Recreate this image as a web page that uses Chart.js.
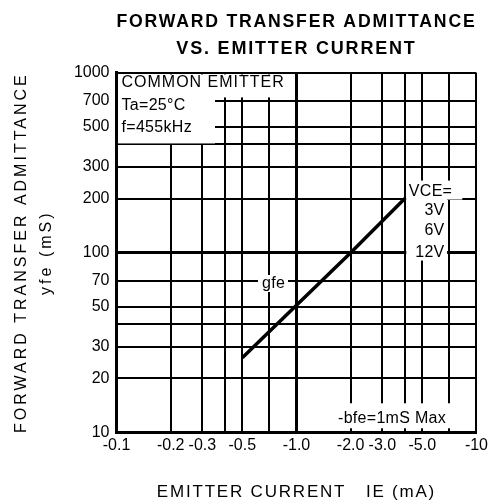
<!DOCTYPE html>
<html>
<head>
<meta charset="utf-8">
<script src="https://cdn.jsdelivr.net/npm/chart.js@4.4.1/dist/chart.umd.min.js"></script>
<style>
  html, body { margin: 0; padding: 0; background: #fff; }
  #wrap { width: 492px; height: 504px; }
</style>
</head>
<body>
<div id="wrap"><canvas id="admittanceChart"></canvas></div>
<script>
// data (IE in mA, yfe in mS)
const emitterCurrent = [-0.5, -1.0, -2.0, -4.0]
const yfe = [26, 51, 100, 200]

// grid lines and labelled ticks (x axis uses |IE|)
const xGrid = [0.1, 0.2, 0.3, 0.4, 0.5, 0.7, 1, 2, 3, 4, 5, 7, 10]
const xTickValues = [0.1, 0.2, 0.3, 0.5, 1, 2, 3, 5, 10]
const xTickLabels = ['-0.1', '-0.2', '-0.3', '-0.5', '-1.0', '-2.0', '-3.0', '-5.0', '-10']
const yGrid = [10, 20, 30, 40, 50, 70, 100, 200, 300, 400, 500, 700, 1000]
const yTickValues = [10, 20, 30, 50, 70, 100, 200, 300, 500, 700, 1000]
const yTickLabels = ['10', '20', '30', '50', '70', '100', '200', '300', '500', '700', '1000']

const FONT = "'Liberation Sans', Arial, sans-serif"

const labelFor = (values, labels) => (v) => {
    const i = values.findIndex(t => Math.abs(t - v) < 1e-9)
    return i < 0 ? '' : labels[i]
}

// wider letter spacing on the titles, like the scanned sheet
const wideText = {
    id: 'wideText',
    beforeDraw(chart) {
        if (chart.$wrapped) return
        chart.$wrapped = true
        const wrap = (obj, key, sp) => {
            const orig = obj[key]
            obj[key] = function (...args) {
                const c = chart.ctx
                c.save()
                c.letterSpacing = sp
                orig.apply(this, args)
                c.restore()
            }
        }
        wrap(chart.titleBlock, 'draw', '1.8px')
        wrap(chart.scales.x, 'drawTitle', '1.8px')
        wrap(chart.scales.y, 'drawTitle', '3px')
    }
}

// white label boxes that break the grid, plus the printed notes
const notes = {
    id: 'notes',
    beforeDatasetsDraw(chart) {
        const { ctx, chartArea: a, scales: { x, y } } = chart
        const x1 = x.getPixelForValue(1)
        const x4 = x.getPixelForValue(4)
        const x7 = x.getPixelForValue(7)
        const y200 = y.getPixelForValue(200)
        const y400 = y.getPixelForValue(400)
        const y20 = y.getPixelForValue(20)

        ctx.save()
        ctx.fillStyle = '#fff'
        ctx.fillRect(a.left + 1.5, a.top + 1.5, x1 - a.left - 3, 23)
        ctx.fillRect(a.left + 1.5, a.top + 24, 97, y400 - a.top - 25)
        ctx.fillRect(x4 + 1.5, y200 - 18, 56, 19)
        ctx.fillRect(x4 + 1.5, y200, x7 - x4 - 3, 62)
        ctx.fillRect(258, 275, 30, 17)
        ctx.fillRect(335, y20 + 25, 115, 25)

        ctx.fillStyle = '#000'
        ctx.textBaseline = 'middle'
        ctx.font = '16px ' + FONT
        ctx.letterSpacing = '1px'
        ctx.textAlign = 'left'
        ctx.fillText('COMMON EMITTER', a.left + 5, a.top + 10)
        ctx.letterSpacing = '0.3px'
        ctx.fillText('Ta=25°C', a.left + 5, a.top + 33)
        ctx.fillText('f=455kHz', a.left + 5, a.top + 55)
        ctx.fillText('VCE=', x4 + 4, y200 - 7)
        ctx.fillText('gfe', 262, 284)
        ctx.fillText('-bfe=1mS Max', 338, y20 + 40)
        ctx.textAlign = 'right'
        ctx.fillText('3V', x7 - 4, y200 + 12)
        ctx.fillText('6V', x7 - 4, y200 + 32)
        ctx.fillText('12V', x7 - 4, y200 + 54)
        ctx.restore()
    }
}

const admittanceChart = document.getElementById('admittanceChart')

new Chart(admittanceChart, {
    type: 'line',
    data: {
        datasets: [{
            label: 'gfe',
            data: emitterCurrent.map((ie, i) => ({ x: Math.abs(ie), y: yfe[i] })),
            borderColor: '#000',
            borderWidth: 3.5,
            pointRadius: 0,
            tension: 0
        }]
    },
    options: {
        responsive: true,
        maintainAspectRatio: false,
        animation: false,
        layout: { padding: { left: 0, right: 8, top: 0, bottom: 0 } },
        plugins: {
            legend: { display: false },
            tooltip: { enabled: false },
            title: {
                display: true,
                fullSize: false,
                text: ['FORWARD TRANSFER ADMITTANCE', 'VS. EMITTER CURRENT'],
                color: '#000',
                font: { family: FONT, size: 18, weight: 'bold', lineHeight: 1.47 },
                padding: { top: 9, bottom: 11 }
            }
        },
        scales: {
            x: {
                type: 'logarithmic',
                min: 0.1,
                max: 10,
                afterBuildTicks: (axis) => { axis.ticks = xGrid.map(v => ({ value: v })) },
                grid: {
                    color: '#000',
                    lineWidth: (c) => c.tick && c.tick.value === 1 ? 3 : 2,
                    drawTicks: false
                },
                border: { color: '#000', width: 3 },
                ticks: {
                    autoSkip: false,
                    maxRotation: 0,
                    padding: 4,
                    color: '#000',
                    font: { family: FONT, size: 16 },
                    callback: labelFor(xTickValues, xTickLabels)
                },
                title: {
                    display: true,
                    text: 'EMITTER CURRENT   IE (mA)',
                    color: '#000',
                    font: { family: FONT, size: 17 },
                    padding: { top: 23, bottom: 1 }
                }
            },
            y: {
                type: 'logarithmic',
                min: 10,
                max: 1000,
                afterBuildTicks: (axis) => { axis.ticks = yGrid.map(v => ({ value: v })) },
                grid: {
                    color: '#000',
                    lineWidth: (c) => c.tick && c.tick.value === 100 ? 3 : 2,
                    drawTicks: false
                },
                border: { color: '#000', width: 3 },
                ticks: {
                    autoSkip: false,
                    padding: 7,
                    color: '#000',
                    font: { family: FONT, size: 16 },
                    callback: labelFor(yTickValues, yTickLabels)
                },
                title: {
                    display: true,
                    text: ['FORWARD TRANSFER ADMITTANCE', 'yfe (mS)'],
                    color: '#000',
                    font: { family: FONT, size: 16, lineHeight: 1.56 },
                    padding: { top: 9, bottom: 8 }
                }
            }
        }
    },
    plugins: [wideText, notes]
});
</script>
</body>
</html>
